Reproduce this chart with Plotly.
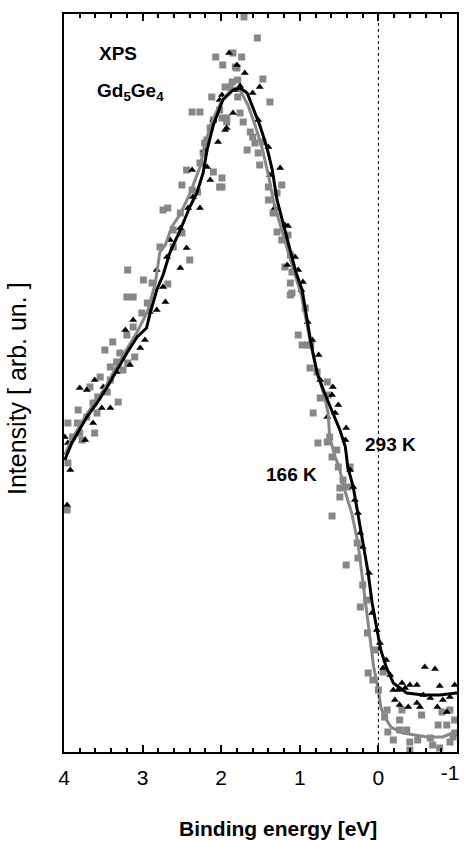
import plotly.graph_objects as go

# ---- smoothed spectra (binding energy in eV, intensity in arb. units) ----
e_line_293 = [3.99, 3.90, 3.71, 3.58, 3.45, 3.33, 3.20, 3.07, 2.95, 2.90, 2.82, 2.74, 2.65, 2.52,
              2.40, 2.31, 2.23, 2.18, 2.10, 1.98, 1.85, 1.76, 1.67, 1.60, 1.51, 1.42, 1.35, 1.29,
              1.20, 1.12, 1.05, 0.97, 0.91, 0.86, 0.78, 0.69, 0.58, 0.49, 0.42, 0.39, 0.32, 0.26,
              0.20, 0.13, 0.08, 0.02, -0.03, -0.10, -0.19, -0.36, -0.57, -0.78, -1.00]
i_line_293 = [292, 309, 335, 349, 365, 382, 399, 415, 424, 440, 462, 477, 500, 522,
              545, 559, 579, 602, 627, 652, 662, 664, 659, 645, 627, 605, 582, 552,
              524, 502, 480, 462, 432, 410, 379, 360, 339, 322, 305, 285, 265, 239,
              209, 179, 149, 122, 102, 85, 69, 59, 57, 57, 59]

e_line_166 = [3.99, 3.90, 3.71, 3.58, 3.45, 3.33, 3.20, 3.07, 2.94, 2.84, 2.78, 2.71, 2.63, 2.52,
              2.40, 2.27, 2.21, 2.12, 1.99, 1.85, 1.76, 1.66, 1.57, 1.48, 1.40, 1.33, 1.23, 1.14,
              1.06, 0.98, 0.92, 0.86, 0.78, 0.69, 0.64, 0.62, 0.55, 0.50, 0.44, 0.34, 0.26, 0.21,
              0.16, 0.11, 0.06, 0.00, -0.03, -0.08, -0.16, -0.31, -0.62, -0.82, -1.00]
i_line_166 = [297, 313, 338, 352, 368, 386, 403, 420, 440, 468, 500, 507, 525, 538,
              558, 585, 607, 630, 652, 664, 662, 647, 627, 604, 577, 549, 522, 497,
              477, 457, 430, 407, 380, 357, 339, 315, 295, 285, 265, 239, 209, 177,
              144, 112, 85, 62, 45, 35, 25, 19, 15, 15, 21]

# ---- measured points, 293 K ----
e_pts_293 = [1.90, 1.80, 1.82, 2.02, 1.85, 2.10, 1.95, 2.04, 2.18, 2.14, 2.37, 2.36, 2.27, 2.42,
             2.65, 2.44, 2.69, 2.52, 2.82, 2.74, 1.70, 1.51, 1.60, 1.93, 1.53, 1.40, 1.25, 1.38,
             1.32, 1.15, 1.16, 1.06, 0.96, 1.02, 1.99, 2.71, 2.82, 3.12, 3.22, 2.97, 3.03, 3.16,
             3.61, 3.80, 3.71, 3.50, 3.41, 3.52, 3.63, 3.99, 3.95, 3.73, 3.92, 3.96, 0.90, 0.84,
             0.76, 0.58, 0.59, 0.51, 0.65, 0.55, 0.41, 0.42, 0.32, 0.30, 0.26, 0.23, 0.20, 0.12,
             0.08, -0.02, -0.06, -0.15, -0.30, -0.40, -0.49, -0.59, -0.72, -0.78, -0.97, -0.19,
             -0.34, -0.21, -0.27, -0.38, -0.49, -0.53, -0.75, -0.82, -0.87, -0.66,
             0.02, -0.10, -0.25, -0.57, -0.91, 0.36, 0.74, 0.98, 1.19, 2.91, 3.33, 2.52, 2.21, 1.76]
i_pts_293 = [699, 687, 662, 652, 639, 632, 622, 610, 585, 572, 582, 555, 544, 544,
             512, 504, 495, 484, 482, 465, 679, 665, 659, 624, 632, 605, 584, 577,
             544, 526, 487, 495, 470, 482, 657, 450, 442, 432, 422, 412, 404, 387,
             372, 364, 362, 365, 344, 344, 329, 315, 309, 312, 282, 247, 430, 412,
             397, 365, 357, 347, 335, 339, 324, 312, 265, 252, 239, 219, 205, 179,
             139, 109, 84, 77, 69, 67, 67, 85, 83, 66, 67, 62,
             64, 52, 47, 45, 49, 45, 45, 52, 40, 54,
             122, 92, 62, 57, 55, 282, 372, 462, 527, 440, 380, 524, 602, 666]

# ---- measured points, 166 K ----
e_pts_166 = [2.07, 1.98, 1.80, 1.86, 1.89, 2.12, 2.37, 2.27, 2.02, 2.10, 1.93, 2.14, 2.18, 2.23,
             2.27, 2.10, 2.02, 2.44, 2.50, 2.37, 2.30, 2.74, 2.68, 2.52, 2.61, 2.50, 2.78, 2.61,
             2.40, 3.19, 2.99, 2.88, 2.68, 3.20, 3.12, 1.71, 1.54, 1.85, 1.74, 1.82, 1.47, 1.79,
             1.95, 1.79, 1.38, 1.76, 1.93, 1.99, 1.72, 1.63, 1.60, 1.57, 1.47, 1.67, 1.53, 1.51,
             1.99, 1.99, 1.40, 1.23, 1.29, 1.40, 1.34, 1.29, 1.23, 1.15, 1.19, 1.10, 1.12, 1.10,
             2.94, 3.01, 3.12, 3.20, 3.38, 3.48, 3.29, 3.10, 3.19, 3.41, 3.25, 3.54, 3.41, 3.67,
             3.45, 3.57, 3.31, 3.63, 3.82, 3.58, 3.71, 3.95, 3.83, 3.80, 3.61, 3.89, 3.77, 3.95,
             3.96, 1.12, 0.93, 1.02, 0.97, 0.90, 0.87, 0.78, 0.65, 0.74, 0.64, 0.83, 0.77, 0.65,
             0.53, 0.59, 0.51, 0.36, 0.45, 0.49, 0.39, 0.49, 0.59, 0.27, 0.41, 0.26, 0.20, 0.23,
             0.14, 0.13, 0.07, -0.06, -0.11, -0.30, -0.55, -0.81, -0.97, -0.12, -0.27, -0.36,
             -0.19, -0.40, -0.76, -0.87, -0.69, -0.91, -0.97, -0.40, -0.78, -0.50, -0.66, -0.95,
             -0.91, -0.27, 0.04, 0.00, -0.08, 0.15, 0.62, 1.12, 0.86, 2.21, 3.33]
i_pts_166 = [695, 687, 684, 670, 665, 655, 640, 640, 642, 632, 630, 624, 612, 599,
             589, 580, 565, 582, 567, 562, 560, 542, 544, 539, 522, 519, 505, 505,
             492, 482, 472, 469, 468, 455, 455, 735, 714, 699, 695, 685, 673, 672,
             665, 655, 650, 639, 634, 634, 630, 620, 615, 609, 610, 602, 599, 587,
             574, 565, 565, 567, 559, 552, 539, 520, 512, 517, 485, 480, 469, 459,
             449, 439, 425, 417, 410, 402, 399, 395, 389, 385, 382, 375, 372, 365,
             360, 355, 350, 349, 342, 339, 335, 329, 329, 319, 319, 315, 312, 289,
             242, 457, 444, 417, 407, 407, 384, 380, 370, 354, 357, 339, 309, 310,
             302, 295, 285, 285, 272, 264, 265, 255, 236, 209, 187, 194, 167, 145,
             119, 79, 72, 80, 42, 42, 37, 40, 32, 20, 22, 22,
             12, 10, 27, 27, 7, 10, 19, 2, 4, 12, 14, 15,
             42, 32, 102, 62, 35, 152, 315, 497, 407, 609, 390]

# Fermi level (E = 0) across the full intensity range
e_fermi = [0, 0]
i_fermi = [0, 738]

x_ticks = [4, 3, 2, 1, 0, -1]
x_tick_text = ["4", "3", "2", "1", "0", ""]
# the label at the right end of the axis sits slightly inward so it stays on the page
edge_tick = [-1]
edge_tick_text = ["-1"]

GRAY = "#878787"
FONT = "Arial, Liberation Sans, sans-serif"
TICKFONT = dict(family=FONT, size=21, color="black")

fig = go.Figure()

fig.add_trace(go.Scatter(x=e_fermi, y=i_fermi, mode="lines", name="E_F", xaxis="x2", yaxis="y",
                         line=dict(color="black", width=1, dash="dot"), hoverinfo="skip"))
fig.add_trace(go.Scatter(x=e_pts_166, y=i_pts_166, mode="markers", name="166 K points",
                         marker=dict(symbol="square", size=7, color=GRAY, line=dict(width=0))))
fig.add_trace(go.Scatter(x=e_pts_293, y=i_pts_293, mode="markers", name="293 K points",
                         marker=dict(symbol="triangle-up", size=7, color="black", line=dict(width=0))))
fig.add_trace(go.Scatter(x=e_line_166, y=i_line_166, mode="lines", name="166 K",
                         line=dict(color=GRAY, width=3)))
fig.add_trace(go.Scatter(x=e_line_293, y=i_line_293, mode="lines", name="293 K",
                         line=dict(color="black", width=3)))

bold = dict(family=FONT, size=19, color="black")
fig.add_annotation(x=3.31, y=699, text="<b>XPS</b>", showarrow=False, font=bold)
fig.add_annotation(x=3.16, y=660, text="<b>Gd<sub>5</sub>Ge<sub>4</sub></b>", showarrow=False,
                   font=bold)
fig.add_annotation(x=-0.15, y=308, text="<b>293 K</b>", showarrow=False, font=bold)
fig.add_annotation(x=1.10, y=278, text="<b>166 K</b>", showarrow=False, font=bold)

# axis titles
fig.add_annotation(xref="paper", yref="paper", x=0.545, y=-0.103, xanchor="center", yanchor="middle",
                   text="<b>Binding energy [eV]</b>", showarrow=False,
                   font=dict(family=FONT, size=21, color="black"))
fig.add_annotation(xref="paper", yref="paper", x=-0.12, y=0.493, xanchor="center", yanchor="middle",
                   text="Intensity [ arb. un. ]", textangle=-90, showarrow=False,
                   font=dict(family=FONT, size=25, color="black"))

fig.update_layout(
    width=464, height=843,
    margin=dict(l=64, r=7, t=14, b=91, autoexpand=False),
    paper_bgcolor="white", plot_bgcolor="white",
    showlegend=False,
    font=dict(family=FONT, color="black"),
    xaxis=dict(
        range=[4, -1], tickvals=x_ticks, ticktext=x_tick_text,
        ticks="inside", ticklen=7, tickwidth=2, tickcolor="black",
        minor=dict(dtick=0.2, ticks="inside", ticklen=4, tickwidth=1.5, tickcolor="black"),
        showline=True, linewidth=2, linecolor="black", mirror="ticks",
        showgrid=False, zeroline=False, automargin=False,
        ticklabeloverflow="allow", ticklabelstandoff=6,
        tickfont=TICKFONT,
    ),
    # reversed axis: a positive shift moves the label toward larger energies (leftward)
    xaxis2=dict(
        overlaying="x", anchor="y", side="bottom", range=[4, -1],
        tickvals=edge_tick, ticktext=edge_tick_text, ticks="",
        showline=False, showgrid=False, zeroline=False, automargin=False,
        ticklabelshift=7, ticklabelstandoff=6, ticklabeloverflow="allow",
        tickfont=TICKFONT,
    ),
    yaxis=dict(
        range=[0, 738], showticklabels=False, ticks="",
        showline=True, linewidth=2, linecolor="black", mirror=True,
        showgrid=False, zeroline=False, automargin=False,
    ),
)

fig.write_html("out.html")
